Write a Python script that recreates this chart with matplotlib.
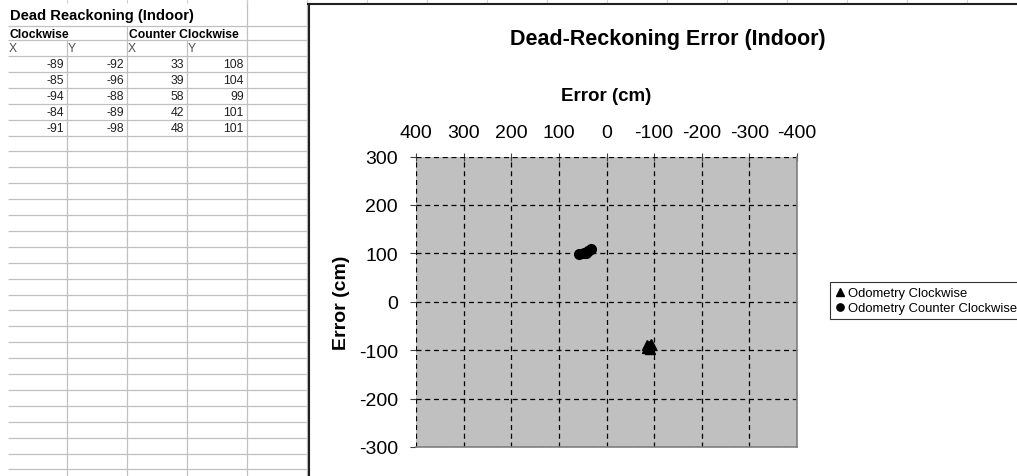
import matplotlib.pyplot as plt

plt.rcParams['font.family'] = ['Liberation Sans', 'DejaVu Sans']
plt.rcParams['axes.unicode_minus'] = False

# -------------------- Data --------------------
# Clockwise run (cm)
cw_x = [-89, -85, -94, -84, -91]
cw_y = [-92, -96, -88, -89, -98]
# Counter clockwise run (cm)
ccw_x = [33, 39, 58, 42, 48]
ccw_y = [108, 104, 99, 101, 101]

sheet_title = 'Dead Reackoning (Indoor)'
group_labels = ['Clockwise', 'Counter Clockwise']
col_labels = ['X', 'Y', 'X', 'Y']

chart_title = 'Dead-Reckoning Error (Indoor)'
axis_label = 'Error (cm)'
series_names = ['Odometry Clockwise', 'Odometry Counter Clockwise']
x_ticks = [400, 300, 200, 100, 0, -100, -200, -300, -400]
y_ticks = [-300, -200, -100, 0, 100, 200, 300]

# -------------------- Figure --------------------
W, H = 1017, 477
fig = plt.figure(figsize=(W / 100, H / 100), dpi=100)

# spreadsheet background drawn in pixel coordinates
sheet = fig.add_axes([0, 0, 1, 1])
sheet.set_xlim(0, W)
sheet.set_ylim(H, 0)
sheet.axis('off')

grid_c = '#c0c0c0'
col_edges = [8, 67, 127, 187, 247, 307]
row_h = 15.9
first_row = 57
row_lines = [27, 41] + [first_row + row_h * k for k in range(27)]
sheet.hlines(row_lines, 8, 307, color=grid_c, lw=0.9)
# vertical cell borders (some cells are merged / overflowed by text)
for x, top in zip(col_edges[1:], [41, 27, 41, 0, 0]):
    sheet.vlines(x, top, H, color=grid_c, lw=0.9)
# column header separators peeking in at the top
sheet.vlines([7 + 60 * k for k in range(1, 17)], 0, 4, color='#d0d0d0', lw=0.8)

sheet.text(10, 16, sheet_title, fontsize=10.6, fontweight='bold', va='center')
sheet.text(10, 34.5, group_labels[0], fontsize=8.7, fontweight='bold', va='center')
sheet.text(129, 34.5, group_labels[1], fontsize=8.7, fontweight='bold', va='center')
for i, lab in enumerate(col_labels):
    sheet.text(col_edges[i] + 1, 49.5, lab, fontsize=8.7, va='center', color='#505050')

columns = [cw_x, cw_y, ccw_x, ccw_y]
for c, vals in enumerate(columns):
    for r, v in enumerate(vals):
        sheet.text(col_edges[c + 1] - 3, first_row + row_h * (r + 0.5), str(v),
                   fontsize=8.8, ha='right', va='center', color='#202020')

# chart frame
sheet.plot([308.5, 308.5], [5, H], color='#202020', lw=1.5)
sheet.plot([308, W], [5, 5], color='#202020', lw=1.5)

fig.text(668 / W, 1 - 39.5 / H, chart_title, ha='center', va='center',
         fontsize=15.5, fontweight='bold')

# -------------------- Chart --------------------
ax = fig.add_axes([416 / W, 1 - 448 / H, 381 / W, 290.5 / H])
ax.set_facecolor('#c0c0c0')

ax.plot(cw_x, cw_y, '^', color='black', markersize=7, label=series_names[0], zorder=3)
ax.plot(ccw_x, ccw_y, 'o', color='black', markersize=7, label=series_names[1], zorder=3)

ax.set_xlim(400, -400)
ax.set_ylim(-300, 300)
ax.set_xticks(x_ticks)
ax.set_yticks(y_ticks)
ax.grid(True, color='black', linestyle=(0, (4, 3)), lw=0.9)
ax.set_axisbelow(True)

ax.xaxis.tick_top()
ax.xaxis.set_label_position('top')
for s in ['left', 'top']:
    ax.spines[s].set_visible(False)
for s in ['right', 'bottom']:
    ax.spines[s].set_color('#808080')
    ax.spines[s].set_linewidth(1.2)

ax.tick_params(axis='x', direction='inout', length=6, width=0.8, color='#404040',
               labelsize=14, pad=8.5)
ax.tick_params(axis='y', direction='out', length=4, width=0.8, color='#404040',
               labelsize=14, pad=9)

ax.set_xlabel(axis_label, fontsize=13.5, fontweight='bold', labelpad=17)
ax.set_ylabel(axis_label, fontsize=14, fontweight='bold', labelpad=6)

leg = ax.legend(loc='upper left', bbox_to_anchor=(830 / W, 1 - 283 / H),
                bbox_transform=fig.transFigure, fontsize=9.4, frameon=True,
                fancybox=False, edgecolor='black', handlelength=0.7,
                handletextpad=0.3, borderpad=0.4, labelspacing=0.2,
                markerscale=0.75, borderaxespad=0)
leg.get_frame().set_linewidth(0.8)

fig.savefig('out.png', dpi=100)
